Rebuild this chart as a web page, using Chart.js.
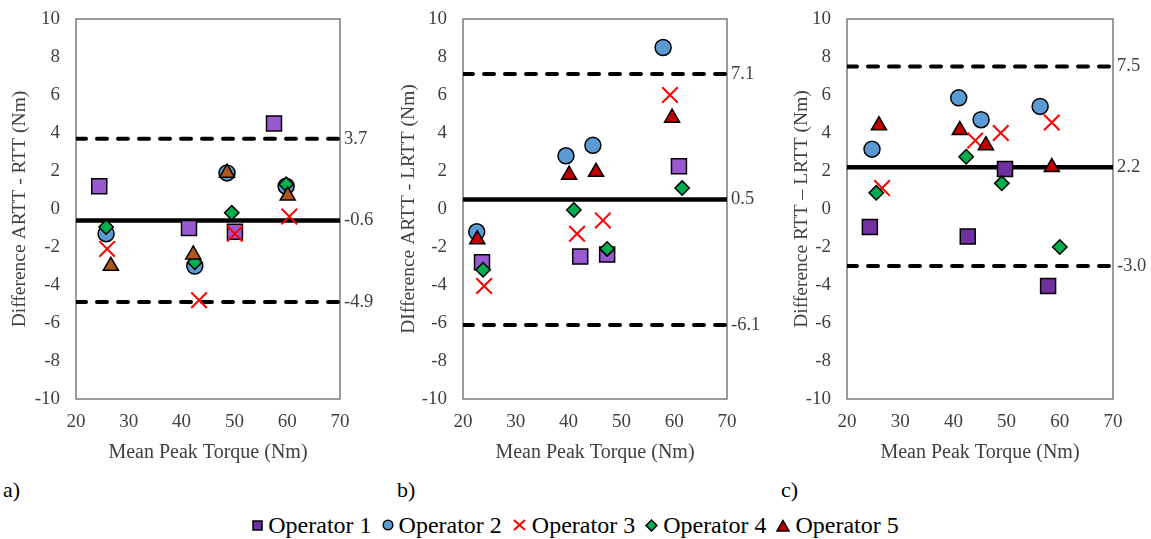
<!DOCTYPE html>
<html>
<head>
<meta charset="utf-8">
<script src="https://cdn.jsdelivr.net/npm/chart.js@4/dist/chart.umd.min.js"></script>
<style>
  html, body { margin: 0; padding: 0; background: #fff; }
  body { width: 1151px; height: 539px; position: relative; overflow: hidden; font-family: 'Liberation Serif', 'DejaVu Serif', serif; }
  .panel { position: absolute; top: 0; height: 470px; }
  .tag { position: absolute; top: 477px; font-size: 22px; color: #000; }
  #legend { position: absolute; left: 0; width: 1151px; top: 510px; height: 30px; display: flex; justify-content: center; align-items: center; font-size: 24px; color: #000; }
  #legend span.item { display: flex; align-items: center; margin: 0 5px; }
  #legend svg { margin-right: 5px; }
</style>
</head>
<body>
<div class="panel" style="left:0;width:385px"><canvas id="chart-a"></canvas></div>
<div class="panel" style="left:389px;width:383px"><canvas id="chart-b"></canvas></div>
<div class="panel" style="left:782px;width:369px"><canvas id="chart-c"></canvas></div>
<div class="tag" style="left:3px">a)</div>
<div class="tag" style="left:397px">b)</div>
<div class="tag" style="left:781px">c)</div>
<div id="legend"></div>

<script>
/* ---------- DATA ---------- */
const operators = ['Operator 1', 'Operator 2', 'Operator 3', 'Operator 4', 'Operator 5'];
const xTicks = [20, 30, 40, 50, 60, 70];
const yRange = [-10, 10];

// a) ARTT - RTT : mean peak torque per operator, difference per operator
const aMean = [
  [24.4, 41.4, 50.1, 57.5],
  [25.7, 42.5, 48.6, 59.8],
  [25.9, 43.3, 50.1, 60.4],
  [25.7, 42.5, 49.5, 59.8],
  [26.6, 42.2, 48.6, 60.1]
];
const aDiff = [
  [1.2, -1.0, -1.2, 4.5],
  [-1.3, -3.0, 1.9, 1.2],
  [-2.1, -4.8, -1.3, -0.4],
  [-0.95, -2.8, -0.2, 1.3],
  [-3.0, -2.4, 1.9, 0.7]
];
const aLimits = [3.7, -0.6, -4.9];   // upper LoA, bias, lower LoA

// b) ARTT - LRTT
const bMean = [
  [23.6, 42.2, 47.3, 60.9],
  [22.6, 39.5, 44.6, 57.9],
  [24.0, 41.6, 46.5, 59.2],
  [23.8, 41.0, 47.3, 61.5],
  [22.7, 40.1, 45.2, 59.6]
];
const bDiff = [
  [-2.8, -2.5, -2.4, 2.25],
  [-1.2, 2.8, 3.35, 8.5],
  [-4.05, -1.3, -0.6, 6.0],
  [-3.2, -0.05, -2.1, 1.1],
  [-1.6, 1.8, 1.95, 4.8]
];
const bLimits = [7.1, 0.5, -6.1];

// c) RTT - LRTT
const cMean = [
  [24.3, 42.7, 49.7, 57.8],
  [24.7, 41.0, 45.2, 56.3],
  [26.6, 44.1, 48.9, 58.5],
  [25.5, 42.4, 49.1, 60.0],
  [26.0, 41.2, 46.1, 58.5]
];
const cDiff = [
  [-0.95, -1.45, 2.1, -4.05],
  [3.15, 5.85, 4.7, 5.4],
  [1.1, 3.6, 4.0, 4.55],
  [0.85, 2.75, 1.35, -2.0],
  [4.4, 4.15, 3.35, 2.2]
];
const cLimits = [7.5, 2.2, -3.0];

/* ---------- STYLE ---------- */
const TEXT = '#404040';
const FONT = "'Liberation Serif', 'DejaVu Serif', serif";
const pointStyles = ['rect', 'circle', 'crossRot', 'rectRot', 'triangle'];
const pointSizes  = [10.6, 8, 11, 7.2, 8.7];
const blue = '#5B9BD5', red = '#FF0000', green = '#00B050';

/* ---------- PLUGINS ---------- */
const boxPlugin = {
  id: 'box',
  beforeDatasetsDraw(chart) {
    const { ctx, chartArea: a } = chart;
    ctx.save();
    ctx.strokeStyle = '#595959';
    ctx.lineWidth = 1.2;
    ctx.strokeRect(a.left, a.top, a.right - a.left, a.bottom - a.top);
    ctx.restore();
  }
};

const limitLabels = {
  id: 'limitLabels',
  afterDraw(chart, args, opts) {
    const { ctx, chartArea: a, scales: { y } } = chart;
    ctx.save();
    ctx.font = `18.5px ${FONT}`;
    ctx.fillStyle = TEXT;
    ctx.textBaseline = 'middle';
    opts.values.forEach(v => {
      ctx.fillText(v.toFixed(1), a.right + 4, y.getPixelForValue(v));
    });
    ctx.restore();
  }
};

/* ---------- PANELS ---------- */
function makePanel(id, mean, diff, limits, yTitle, yWidth, rightPad, op1Color, op5Color) {
  const fills = [op1Color, blue, red, green, op5Color];
  const datasets = operators.map((name, i) => ({
    type: 'scatter',
    label: name,
    data: mean[i].map((x, k) => ({ x, y: diff[i][k] })),
    pointStyle: pointStyles[i],
    pointRadius: pointSizes[i],
    pointHoverRadius: pointSizes[i],
    backgroundColor: fills[i],
    borderColor: i === 2 ? red : '#000',
    borderWidth: i === 2 ? 2 : 1.5,
    order: 5 - i
  }));

  limits.forEach((v, i) => {
    datasets.push({
      type: 'line',
      data: [{ x: xTicks[0], y: v }, { x: xTicks[xTicks.length - 1], y: v }],
      borderColor: '#000',
      borderWidth: i === 1 ? 4.5 : 4,
      borderDash: i === 1 ? [] : [10, 11],
      borderCapStyle: i === 1 ? 'butt' : 'round',
      pointRadius: 0,
      order: 10
    });
  });

  return new Chart(document.getElementById(id), {
    data: { datasets },
    options: {
      responsive: true,
      maintainAspectRatio: false,
      animation: false,
      layout: { padding: { top: 19, right: rightPad, left: 0, bottom: 0 } },
      plugins: {
        legend: { display: false },
        tooltip: { enabled: false },
        limitLabels: { values: limits }
      },
      scales: {
        x: {
          type: 'linear',
          min: xTicks[0], max: xTicks[xTicks.length - 1],
          ticks: { stepSize: 10, color: TEXT, padding: 12, font: { family: FONT, size: 19 } },
          grid: { display: false, drawTicks: false },
          border: { display: false },
          title: { display: true, text: 'Mean Peak Torque (Nm)', color: TEXT, font: { family: FONT, size: 20 }, padding: { bottom: 5 } },
          afterFit: s => { s.height = 71; s.paddingLeft = 0; s.paddingRight = 0; }
        },
        y: {
          min: yRange[0], max: yRange[1],
          ticks: { stepSize: 2, color: TEXT, padding: 16, font: { family: FONT, size: 19 } },
          grid: { display: false, drawTicks: false },
          border: { display: false },
          title: { display: true, text: yTitle, color: TEXT, font: { family: FONT, size: 19.5 }, padding: { top: 8 } },
          afterFit: s => { s.width = yWidth; s.paddingTop = 0; s.paddingBottom = 0; }
        }
      }
    },
    plugins: [boxPlugin, limitLabels]
  });
}

makePanel('chart-a', aMean, aDiff, aLimits, 'Difference ARTT - RTT (Nm)', 76, 45, '#9B59D0', '#B0561A');
makePanel('chart-b', bMean, bDiff, bLimits, 'DIfference ARTT - LRTT (Nm)', 74, 45, '#9B59D0', '#C00000');
makePanel('chart-c', cMean, cDiff, cLimits, 'Difference RTT \u2013 LRTT (Nm)', 65, 38, '#7030A0', '#C00000');

/* ---------- LEGEND ---------- */
const legendIcons = [
  '<svg width="11" height="11"><rect x="1" y="1" width="9" height="9" fill="#7030A0" stroke="#000" stroke-width="1.5"/></svg>',
  '<svg width="12" height="12"><circle cx="6" cy="6" r="4.8" fill="#5B9BD5" stroke="#000" stroke-width="1.5"/></svg>',
  '<svg width="15" height="14"><path d="M2 2 L13 12 M13 2 L2 12" stroke="#FF0000" stroke-width="2"/></svg>',
  '<svg width="13" height="13"><path d="M6.5 1 L12 6.5 L6.5 12 L1 6.5 Z" fill="#00B050" stroke="#000" stroke-width="1.5"/></svg>',
  '<svg width="14" height="13"><path d="M7 1.5 L13 12 L1 12 Z" fill="#C00000" stroke="#000" stroke-width="1.5"/></svg>'
];
document.getElementById('legend').innerHTML = operators
  .map((name, i) => `<span class="item">${legendIcons[i]}${name}</span>`)
  .join('');
</script>
</body>
</html>
